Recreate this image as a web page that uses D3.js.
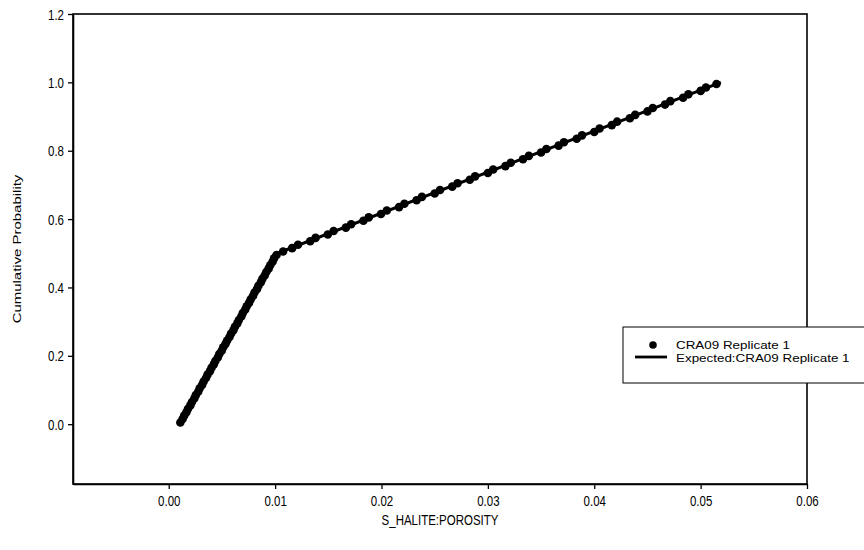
<!DOCTYPE html>
<html><head><meta charset="utf-8">
<script src="https://cdn.jsdelivr.net/npm/d3@7"></script>
<style>body{margin:0;background:#fff}svg{display:block}text{font-family:"Liberation Sans",Arial,sans-serif;fill:#000}</style>
</head><body>
<svg id="c" width="864" height="550"></svg>
<script>
// ---- data ----
const sampleX = [
 0.00109,0.00130,0.00145,0.00166,0.00181,0.00203,0.00218,0.00240,0.00254,0.00277,
 0.00291,0.00314,0.00328,0.00350,0.00365,0.00387,0.00402,0.00424,0.00438,0.00461,
 0.00475,0.00498,0.00512,0.00534,0.00549,0.00571,0.00586,0.00608,0.00622,0.00645,
 0.00659,0.00682,0.00696,0.00718,0.00733,0.00755,0.00770,0.00792,0.00806,0.00829,
 0.00843,0.00866,0.00880,0.00902,0.00917,0.00939,0.00954,0.00976,0.00990,0.01013,
 0.01075,0.01160,0.01215,0.01330,0.01380,0.01495,0.01550,0.01665,0.01715,0.01830,
 0.01880,0.01995,0.02050,0.02165,0.02215,0.02330,0.02380,0.02500,0.02550,0.02665,
 0.02715,0.02830,0.02880,0.03000,0.03050,0.03165,0.03215,0.03330,0.03385,0.03500,
 0.03550,0.03665,0.03715,0.03835,0.03885,0.04000,0.04050,0.04165,0.04215,0.04335,
 0.04385,0.04500,0.04550,0.04665,0.04715,0.04835,0.04885,0.05000,0.05050,0.05149
];
const sampleP = [
 0.005,0.015,0.025,0.035,0.045,0.055,0.065,0.075,0.085,0.095,
 0.105,0.115,0.125,0.135,0.145,0.155,0.165,0.175,0.185,0.195,
 0.205,0.215,0.225,0.235,0.245,0.255,0.265,0.275,0.285,0.295,
 0.305,0.315,0.325,0.335,0.345,0.355,0.365,0.375,0.385,0.395,
 0.405,0.415,0.425,0.435,0.445,0.455,0.465,0.475,0.485,0.495,
 0.505,0.515,0.525,0.535,0.545,0.555,0.565,0.575,0.585,0.595,
 0.605,0.615,0.625,0.635,0.645,0.655,0.665,0.675,0.685,0.695,
 0.705,0.715,0.725,0.735,0.745,0.755,0.765,0.775,0.785,0.795,
 0.805,0.815,0.825,0.835,0.845,0.855,0.865,0.875,0.885,0.895,
 0.905,0.915,0.925,0.935,0.945,0.955,0.965,0.975,0.985,0.995
];
const expectedX = [0.001, 0.0102, 0.0519];
const expectedP = [0.0, 0.5, 1.0];
const xTicks = [0.00,0.01,0.02,0.03,0.04,0.05,0.06];
const yTicks = [0.0,0.2,0.4,0.6,0.8,1.0,1.2];
const seriesNames = ["CRA09 Replicate 1","Expected:CRA09 Replicate 1"];
const xTitle = "S_HALITE:POROSITY";
const yTitle = "Cumulative Probability";

// ---- layout ----
const L=73,T=14,R=807,B=484;
const svg=d3.select("#c");
const x=d3.scaleLinear().domain([-0.009,0.06]).range([L,R]);
const y=d3.scaleLinear().domain([-0.175,1.2]).range([B,T]);

// frame
svg.append("rect").attr("x",L).attr("y",T).attr("width",R-L).attr("height",B-T)
  .attr("fill","none").attr("stroke","#000").attr("stroke-width",1.6);

// axes
const xa=svg.append("g").attr("transform",`translate(0,${B})`)
  .call(d3.axisBottom(x).tickValues(xTicks).tickSizeInner(5).tickSizeOuter(0).tickPadding(4).tickFormat(d3.format(".2f")));
const ya=svg.append("g").attr("transform",`translate(${L},0)`)
  .call(d3.axisLeft(y).tickValues(yTicks).tickSizeInner(5).tickSizeOuter(0).tickPadding(4).tickFormat(d3.format(".1f")));
[xa,ya].forEach(g=>{
  g.select(".domain").attr("stroke","#000").attr("stroke-width",1.6);
  g.selectAll(".tick line").attr("stroke","#000").attr("stroke-width",1.3);
  g.selectAll("text").attr("font-size",11.5).style("font-family","'Liberation Sans',Arial,sans-serif");
});
// vertical stretch of tick labels like the scan
xa.selectAll(".tick text").attr("y",0).attr("dy",0)
  .attr("transform","translate(0,22) scale(1,1.25)");
ya.selectAll(".tick text").attr("dy",0)
  .attr("transform","translate(0,5) scale(1,1.25)");

// expected line
const line=d3.line().x((d,i)=>x(expectedX[i])).y((d,i)=>y(expectedP[i]));
svg.append("path").datum(expectedX).attr("d",line).attr("fill","none")
  .attr("stroke","#000").attr("stroke-width",3);

// sample points
svg.append("g").selectAll("circle").data(sampleX).join("circle")
  .attr("cx",d=>x(d)).attr("cy",(d,i)=>y(sampleP[i])).attr("r",4.3).attr("fill","#000");

// axis titles
svg.append("text").attr("text-anchor","middle").attr("font-size",11.5)
  .attr("transform",`translate(${(L+R)/2},525) scale(1,1.25)`).text(xTitle);
svg.append("text").attr("text-anchor","middle").attr("font-size",11.5)
  .attr("transform",`translate(21,${(T+B)/2}) rotate(-90) scale(1.3,1)`).text(yTitle);

// legend
const lg=svg.append("g");
lg.append("rect").attr("x",623).attr("y",327).attr("width",260).attr("height",56)
  .attr("fill","#fff").attr("stroke","#000").attr("stroke-width",1);
lg.append("circle").attr("cx",653).attr("cy",345).attr("r",3.8).attr("fill","#000");
lg.append("line").attr("x1",635).attr("x2",667).attr("y1",357).attr("y2",357)
  .attr("stroke","#000").attr("stroke-width",2.8);
seriesNames.forEach((s,i)=>{
  lg.append("text").attr("font-size",11)
    .attr("transform",`translate(676,${349+i*13}) scale(1.22,1)`).text(s);
});
</script>
</body></html>
